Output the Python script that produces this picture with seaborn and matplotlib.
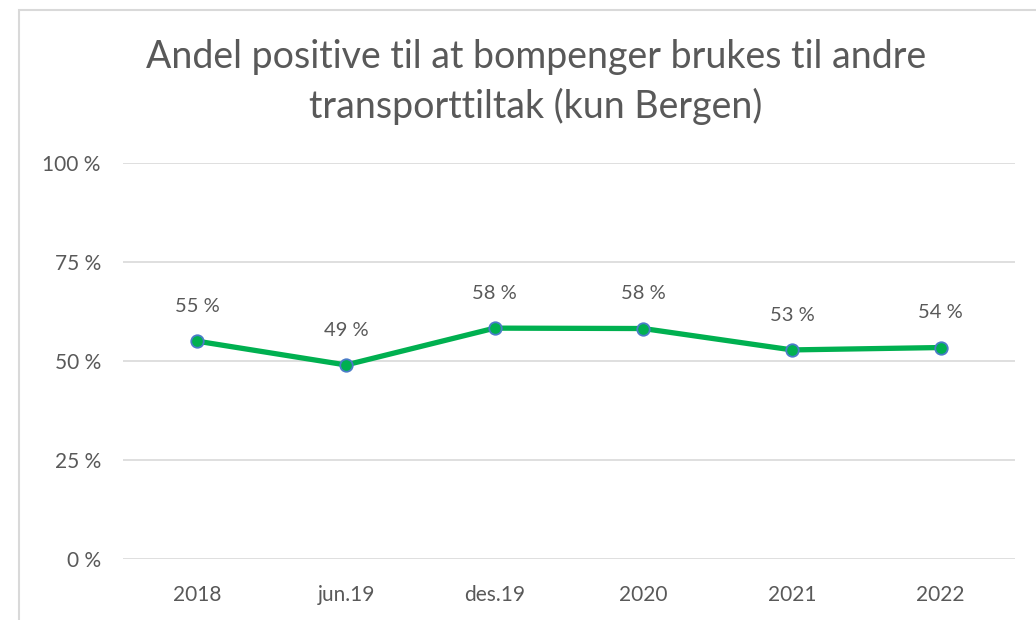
import pandas as pd
import seaborn as sns
import matplotlib.pyplot as plt
from matplotlib.patches import Rectangle
from matplotlib.ticker import FuncFormatter

periods = ['2018', 'jun.19', 'des.19', '2020', '2021', '2022']
share_positive = [55, 49, 58.3, 58.2, 52.8, 53.4]
label_text = ['55 %', '49 %', '58 %', '58 %', '53 %', '54 %']

sns.set_style('white')
plt.rcParams['font.family'] = ['Lato', 'DejaVu Sans']

grey = '#595959'
data = pd.DataFrame({'period': periods, 'share': share_positive})

fig = plt.figure(figsize=(10.36, 6.2), dpi=100)
ax = fig.add_axes([123 / 1036, 1 - 559 / 620, (1015 - 123) / 1036, (559 - 163) / 620])

sns.lineplot(x='period', y='share', data=data, ax=ax, sort=False,
             color='#00B050', linewidth=3.8, marker='o', markersize=9,
             markerfacecolor='#00B050', markeredgecolor='#4A7CC8', markeredgewidth=1.3)

for i, (v, t) in enumerate(zip(share_positive, label_text)):
    ax.annotate(t, (i, v), xytext=(0, 25), textcoords='offset points',
                ha='center', va='center', fontsize=14.5, color=grey)

ax.set_xlim(-0.5, len(periods) - 0.5)
ax.set_ylim(0, 100)
ax.set_yticks([0, 25, 50, 75, 100])
ax.yaxis.set_major_formatter(FuncFormatter(lambda v, p: f'{int(v)} %'))
ax.grid(axis='y', color='#D9D9D9', linewidth=1.2)
ax.grid(axis='x', visible=False)
for s in ax.spines.values():
    s.set_visible(False)
ax.tick_params(axis='both', length=0, labelsize=15, labelcolor=grey)
ax.tick_params(axis='y', pad=16)
ax.tick_params(axis='x', pad=19)
ax.set(xlabel='', ylabel='')

fig.text(536 / 1036, 1 - 82 / 620, 'Andel positive til at bompenger brukes til andre\ntransporttiltak (kun Bergen)',
         ha='center', va='center', fontsize=27, color=grey, linespacing=1.4)

fig.patches.append(Rectangle((19 / 1036, -0.1), 1.1, 1 - 10 / 620 + 0.1, transform=fig.transFigure,
                             fill=False, edgecolor='#D9D9D9', linewidth=1.5))

fig.savefig('out.png', dpi=100, facecolor='white')
